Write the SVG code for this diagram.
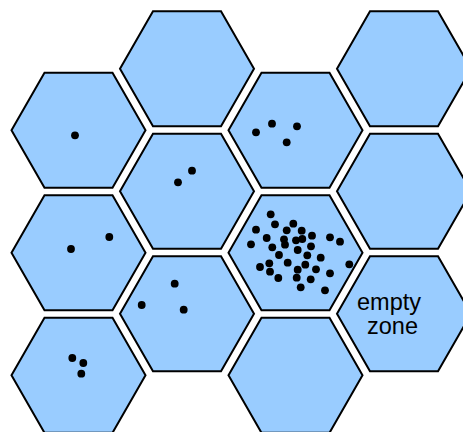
<svg xmlns="http://www.w3.org/2000/svg" xmlns:xlink="http://www.w3.org/1999/xlink" width="463" height="432" viewBox="0 0 463 432">
  <style>
    .cell { fill: #99ccff; stroke: #000; stroke-width: 2; stroke-linejoin: miter; }
    .pt { fill: #000; }
    .lbl { font-family: "Liberation Sans", Arial, sans-serif; font-size: 23.5px; fill: #000; text-anchor: middle; }
  </style>
  <defs>
    <!-- flat-topped hexagon centred on the origin -->
    <polygon id="hex" class="cell" points="-67,0 -34,-57.5 34,-57.5 67,0 34,57.5 -34,57.5"/>
  </defs>
  <rect width="463" height="432" fill="#fff"/>

  <!-- column 0 -->
  <g id="cell-0-0">
    <use xlink:href="#hex" href="#hex" x="78.5" y="130.2"/>
    <circle class="pt" cx="75" cy="135.3" r="3.9"/>
  </g>
  <g id="cell-0-1">
    <use xlink:href="#hex" href="#hex" x="78.5" y="252.8"/>
    <circle class="pt" cx="71" cy="249" r="3.9"/>
    <circle class="pt" cx="109.3" cy="237" r="3.9"/>
  </g>
  <g id="cell-0-2">
    <use xlink:href="#hex" href="#hex" x="78.5" y="375.3"/>
    <circle class="pt" cx="72.3" cy="358" r="3.9"/>
    <circle class="pt" cx="83.3" cy="363" r="3.9"/>
    <circle class="pt" cx="81.3" cy="373.7" r="3.9"/>
  </g>

  <!-- column 1 -->
  <g id="cell-1-0">
    <use xlink:href="#hex" href="#hex" x="187" y="68.7"/>
  </g>
  <g id="cell-1-1">
    <use xlink:href="#hex" href="#hex" x="187" y="191.2"/>
    <circle class="pt" cx="178" cy="182.3" r="3.9"/>
    <circle class="pt" cx="192" cy="170.7" r="3.9"/>
  </g>
  <g id="cell-1-2">
    <use xlink:href="#hex" href="#hex" x="187" y="313.7"/>
    <circle class="pt" cx="174.7" cy="283.7" r="3.9"/>
    <circle class="pt" cx="141.7" cy="305" r="3.9"/>
    <circle class="pt" cx="183.7" cy="309.7" r="3.9"/>
  </g>

  <!-- column 2 -->
  <g id="cell-2-0">
    <use xlink:href="#hex" href="#hex" x="295.5" y="130.2"/>
    <circle class="pt" cx="256" cy="132.3" r="3.9"/>
    <circle class="pt" cx="272" cy="123.7" r="3.9"/>
    <circle class="pt" cx="297" cy="126.3" r="3.9"/>
    <circle class="pt" cx="286.7" cy="142.3" r="3.9"/>
  </g>
  <g id="cell-2-1">
    <use xlink:href="#hex" href="#hex" x="295.5" y="252.8"/>
    <circle class="pt" cx="270.7" cy="214.3" r="3.9"/>
    <circle class="pt" cx="256" cy="229.7" r="3.9"/>
    <circle class="pt" cx="275" cy="224.3" r="3.9"/>
    <circle class="pt" cx="293.3" cy="223.7" r="3.9"/>
    <circle class="pt" cx="286.7" cy="230.3" r="3.9"/>
    <circle class="pt" cx="301.7" cy="230.7" r="3.9"/>
    <circle class="pt" cx="266.7" cy="238" r="3.9"/>
    <circle class="pt" cx="284" cy="239.3" r="3.9"/>
    <circle class="pt" cx="296" cy="240.3" r="3.9"/>
    <circle class="pt" cx="302.3" cy="239" r="3.9"/>
    <circle class="pt" cx="312" cy="235.7" r="3.9"/>
    <circle class="pt" cx="330" cy="237.3" r="3.9"/>
    <circle class="pt" cx="340" cy="241.7" r="3.9"/>
    <circle class="pt" cx="251" cy="244.3" r="3.9"/>
    <circle class="pt" cx="272.3" cy="247.3" r="3.9"/>
    <circle class="pt" cx="285" cy="244.7" r="3.9"/>
    <circle class="pt" cx="311" cy="246.3" r="3.9"/>
    <circle class="pt" cx="297.7" cy="250" r="3.9"/>
    <circle class="pt" cx="279" cy="255" r="3.9"/>
    <circle class="pt" cx="307.3" cy="255.3" r="3.9"/>
    <circle class="pt" cx="320.7" cy="257.7" r="3.9"/>
    <circle class="pt" cx="269.3" cy="263.3" r="3.9"/>
    <circle class="pt" cx="287.7" cy="262.7" r="3.9"/>
    <circle class="pt" cx="305.3" cy="264.7" r="3.9"/>
    <circle class="pt" cx="349.3" cy="264.3" r="3.9"/>
    <circle class="pt" cx="260" cy="267" r="3.9"/>
    <circle class="pt" cx="270" cy="271.7" r="3.9"/>
    <circle class="pt" cx="297.7" cy="269.7" r="3.9"/>
    <circle class="pt" cx="316" cy="269.3" r="3.9"/>
    <circle class="pt" cx="330" cy="273.3" r="3.9"/>
    <circle class="pt" cx="278.3" cy="278" r="3.9"/>
    <circle class="pt" cx="296.7" cy="277.7" r="3.9"/>
    <circle class="pt" cx="310.7" cy="279.3" r="3.9"/>
    <circle class="pt" cx="300.7" cy="287.3" r="3.9"/>
    <circle class="pt" cx="325" cy="290.3" r="3.9"/>
  </g>
  <g id="cell-2-2">
    <use xlink:href="#hex" href="#hex" x="295.5" y="375.3"/>
  </g>

  <!-- column 3 -->
  <g id="cell-3-0">
    <use xlink:href="#hex" href="#hex" x="404" y="68.7"/>
  </g>
  <g id="cell-3-1">
    <use xlink:href="#hex" href="#hex" x="404" y="191.2"/>
  </g>
  <g id="cell-3-2">
    <use xlink:href="#hex" href="#hex" x="404" y="313.7"/>
    <text class="lbl"><tspan x="389" y="310">empty</tspan><tspan x="392.5" y="334">zone</tspan></text>
  </g>
</svg>
